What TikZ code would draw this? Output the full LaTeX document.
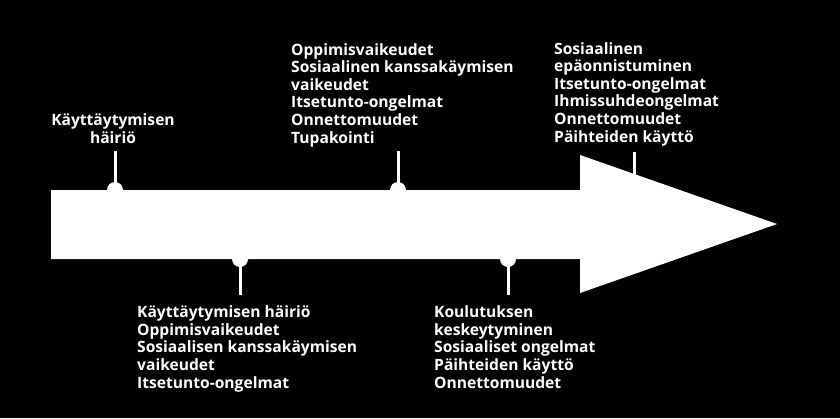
\documentclass[tikz,border=0pt]{standalone}
\usepackage{fontspec}
\setmainfont{Open Sans}
\begin{document}
\begin{tikzpicture}[x=1pt,y=-1pt,
  lbl/.style={text=white,font=\bfseries\fontsize{15.6}{17.6}\selectfont,inner sep=0pt,align=left},
  dot/.style={circle,fill=white,minimum size=16pt,inner sep=0pt},
  stem/.style={draw=white,line width=3pt}]
\fill[black] (0,0) rectangle (840,418);
\useasboundingbox (0,0) rectangle (840,418);
% stems first
\node[dot] (d1) at (115,190) {};
\node[dot] (d2) at (240,259) {};
\node[dot] (d3) at (398,190) {};
\node[dot] (d4) at (508,259) {};
\coordinate (d5) at (634,190);
\coordinate (t1) at (115,151);
\coordinate (t2) at (240,295);
\coordinate (t3) at (398,151);
\coordinate (t4) at (508,295);
\coordinate (t5) at (634,152);
\draw[stem] (d1.center) -- (t1);
\draw[stem] (d2.center) -- (t2);
\draw[stem] (d3.center) -- (t3);
\draw[stem] (d4.center) -- (t4);
\draw[stem] (d5) -- (t5);
% arrow
\fill[white] (51,190) -- (580,190) -- (580,155) -- (777,224) -- (580,293) -- (580,259) -- (51,259) -- cycle;
% labels (anchor = baseline of last line)
\node[lbl,align=center,anchor=base] (l1) at (113,143) {Käyttäytymisen\\häiriö};
\node[lbl,anchor=base west] (l2) at (137,388) {Käyttäytymisen häiriö\\Oppimisvaikeudet\\Sosiaalisen kanssakäymisen\\vaikeudet\\Itsetunto-ongelmat};
\node[lbl,anchor=base west] (l3) at (291,143) {Oppimisvaikeudet\\Sosiaalinen kanssakäymisen\\vaikeudet\\Itsetunto-ongelmat\\Onnettomuudet\\Tupakointi};
\node[lbl,anchor=base west] (l4) at (434,388) {Koulutuksen\\keskeytyminen\\Sosiaaliset ongelmat\\Päihteiden käyttö\\Onnettomuudet};
\node[lbl,anchor=base west] (l5) at (554,142) {Sosiaalinen\\epäonnistuminen\\Itsetunto-ongelmat\\Ihmissuhdeongelmat\\Onnettomuudet\\Päihteiden käyttö};
\end{tikzpicture}
\end{document}
